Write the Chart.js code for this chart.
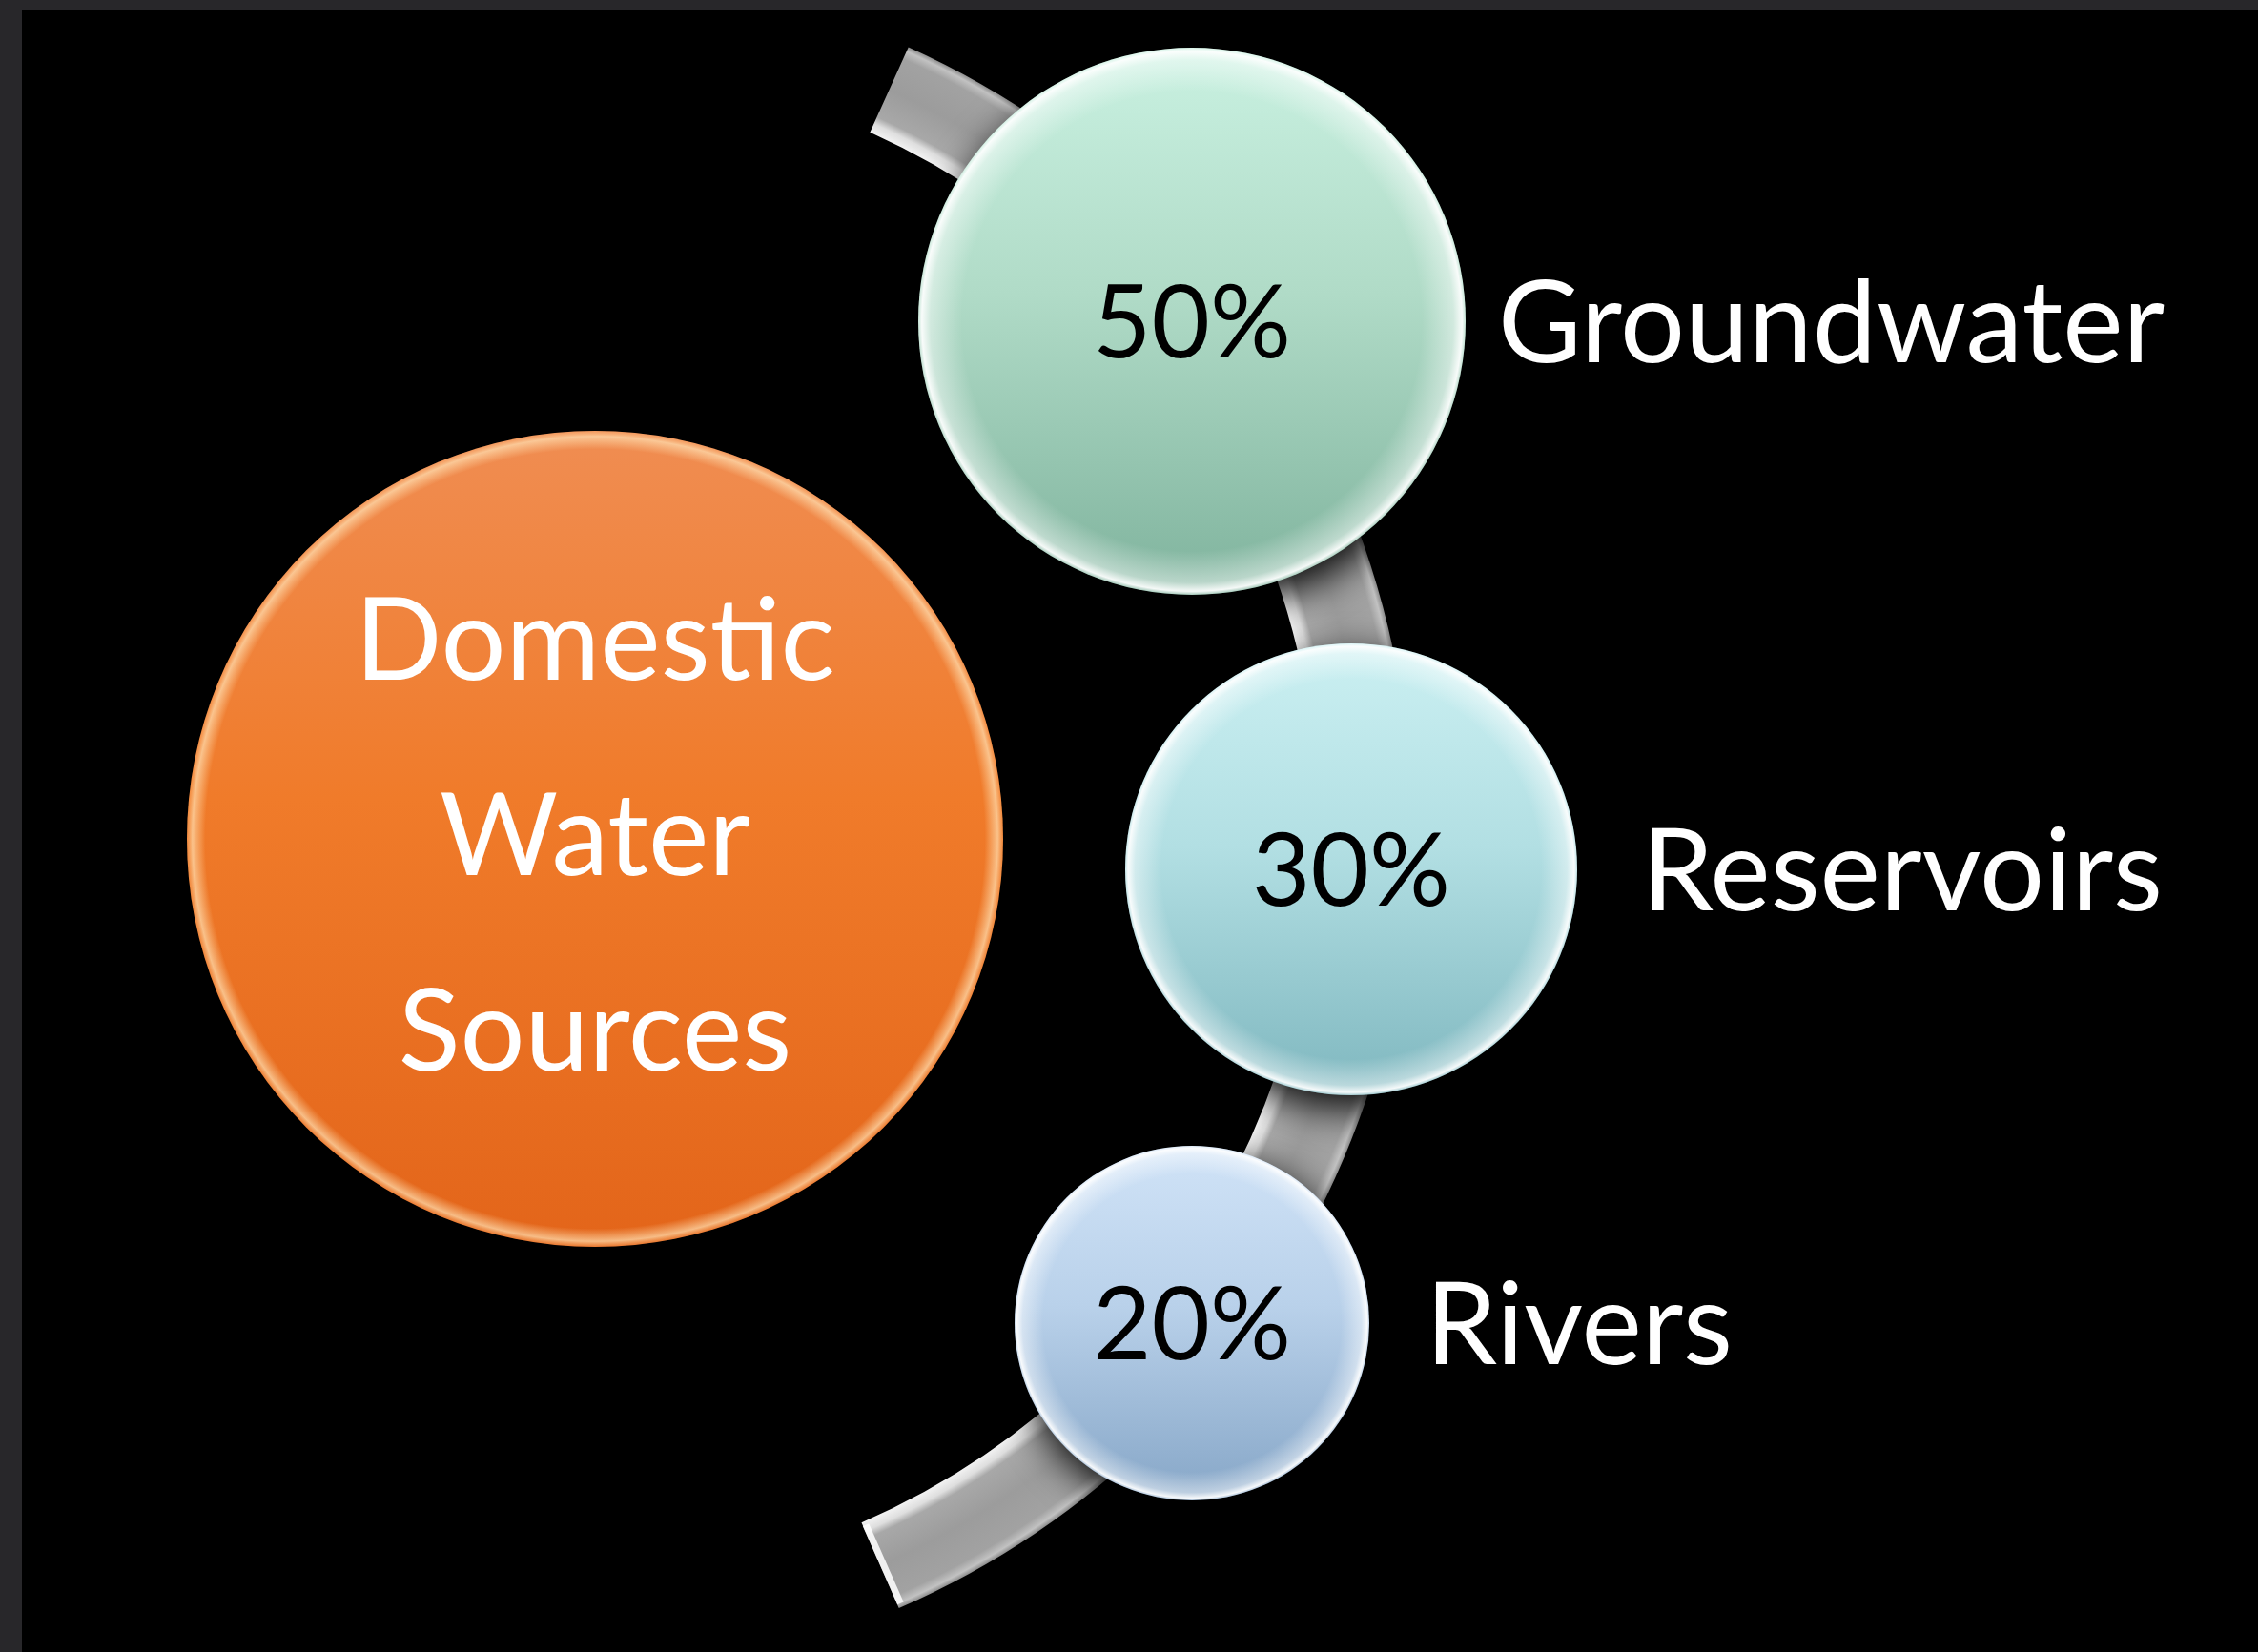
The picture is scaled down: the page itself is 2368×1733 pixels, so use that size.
<!DOCTYPE html>
<html>
<head>
<meta charset="utf-8">
<title>Domestic Water Sources</title>
<script src="https://cdn.jsdelivr.net/npm/chart.js@4.4.1/dist/chart.umd.min.js"></script>
<style>
  html, body { margin: 0; padding: 0; background: #000; }
  canvas { display: block; }
</style>
</head>
<body>
<canvas id="myChart" width="2368" height="1733"></canvas>
<script>
// chart data
var sources = ['Groundwater', 'Reservoirs', 'Rivers'];
var shares = [50, 30, 20];
var hubLines = ['Domestic', 'Water', 'Sources'];

// layout, in axis units (the axes run over the canvas pixels)
var sourceX = [1250, 1417, 1250];
var sourceY = [337, 912, 1388];
var sourceR = [287, 237, 186];
var labelX = [1571, 1722, 1495];
var hubPos = { x: 624, y: 880, r: 428 };
var ring = { x: 584, y: 866, r: 847, width: 98, from: -65.7, to: 66.4 };

// colours
var sourceTop = ['#c9f1e1', '#cbf0f2', '#d0e3f7'];
var sourceMid = ['#b0dbc7', '#b2dfe3', '#b9d1ea'];
var sourceBottom = ['#7fb39d', '#7fb7bf', '#86a6c7'];
var hubTop = ['#f08d52'], hubMid = ['#f07b2a'], hubBottom = ['#e3651a'];

var FONT = 'Lato, "Open Sans", sans-serif';
var TEXT_SIZE = 120;
var PCT_SIZE = 106;
var CAP = 0.7165;

//vertical gradient for each bubble, built from the scales
function bubbleFill(tops, mids, bottoms) {
    return function (c) {
        var i = c.dataIndex || 0;
        if (c.type !== 'data') return mids[i];
        var y = c.chart.scales.y.getPixelForValue(c.raw.y);
        if (!isFinite(y)) return mids[i];
        var g = c.chart.ctx.createLinearGradient(0, y - c.raw.r, 0, y + c.raw.r);
        g.addColorStop(0, tops[i]);
        g.addColorStop(0.45, mids[i]);
        g.addColorStop(1, bottoms[i]);
        return g;
    };
}

var glossPlugin = {
    id: 'gloss',
    beforeDraw: function (chart) {
        var ctx = chart.ctx;
        ctx.save();
        ctx.fillStyle = '#000';
        ctx.fillRect(0, 0, chart.width, chart.height);
        ctx.fillStyle = '#28272a';
        ctx.fillRect(0, 0, chart.width, 11);
        ctx.fillRect(0, 0, 23, chart.height);
        ctx.restore();
    },
    //the grey curved band behind the bubbles
    beforeDatasetsDraw: function (chart) {
        var ctx = chart.ctx, sx = chart.scales.x, sy = chart.scales.y;
        var cx = sx.getPixelForValue(ring.x), cy = sy.getPixelForValue(ring.y);
        var R = sx.getPixelForValue(ring.x + ring.r) - cx;
        var w = ring.width;
        var a0 = ring.from * Math.PI / 180, a1 = ring.to * Math.PI / 180;
        ctx.save();
        var g = ctx.createRadialGradient(cx, cy, R - w / 2, cx, cy, R + w / 2);
        g.addColorStop(0, '#f2f2f2');
        g.addColorStop(0.1, '#dedede');
        g.addColorStop(0.18, '#a8a8a8');
        g.addColorStop(0.5, '#9c9c9c');
        g.addColorStop(0.86, '#a2a2a2');
        g.addColorStop(0.95, '#c2c2c2');
        g.addColorStop(1, '#8c8c8c');
        ctx.strokeStyle = g;
        ctx.lineWidth = w;
        ctx.lineCap = 'butt';
        ctx.beginPath();
        ctx.arc(cx, cy, R, a0, a1, false);
        ctx.stroke();
        // light bevel on the lower end cap
        ctx.strokeStyle = 'rgba(255,255,255,0.85)';
        ctx.lineWidth = 7;
        ctx.beginPath();
        ctx.moveTo(cx + (R - w / 2 + 4) * Math.cos(a1 - 0.004), cy + (R - w / 2 + 4) * Math.sin(a1 - 0.004));
        ctx.lineTo(cx + (R + w / 2 - 4) * Math.cos(a1 - 0.004), cy + (R + w / 2 - 4) * Math.sin(a1 - 0.004));
        ctx.stroke();
        ctx.restore();
    },
    beforeDatasetDraw: function (chart) {
        var ctx = chart.ctx;
        ctx.save();
        ctx.shadowColor = 'rgba(0,0,0,0.95)';
        ctx.shadowBlur = 40;
        ctx.shadowOffsetX = 4;
        ctx.shadowOffsetY = 14;
    },
    afterDatasetDraw: function (chart, args) {
        var ctx = chart.ctx;
        ctx.restore();
        var isHub = args.index === 1;
        args.meta.data.forEach(function (el) {
            var x = el.x, y = el.y, r = el.options.radius;
            var g = ctx.createRadialGradient(x, y, r * (isHub ? 0.955 : 0.84), x, y, r);
            if (isHub) {
                g.addColorStop(0, 'rgba(255,220,170,0)');
                g.addColorStop(0.7, 'rgba(255,225,180,0.7)');
                g.addColorStop(1, 'rgba(255,200,140,0.2)');
            } else {
                g.addColorStop(0, 'rgba(255,255,255,0)');
                g.addColorStop(0.72, 'rgba(255,255,255,0.45)');
                g.addColorStop(0.92, 'rgba(255,255,255,0.92)');
                g.addColorStop(1, 'rgba(255,255,255,0.3)');
            }
            ctx.save();
            ctx.fillStyle = g;
            ctx.beginPath();
            ctx.arc(x, y, r, 0, Math.PI * 2);
            ctx.fill();
            ctx.restore();
        });
    },
    //texts: percentages, source names and the hub title
    afterDatasetsDraw: function (chart) {
        var ctx = chart.ctx, sx = chart.scales.x;
        var pts = chart.getDatasetMeta(0).data;
        var hub = chart.getDatasetMeta(1).data[0];
        ctx.save();
        ctx.textBaseline = 'alphabetic';
        pts.forEach(function (el, i) {
            ctx.font = PCT_SIZE + 'px ' + FONT;
            ctx.fillStyle = '#000';
            ctx.textAlign = 'center';
            ctx.fillText(shares[i] + '%', el.x, el.y + PCT_SIZE * CAP / 2);
            ctx.font = TEXT_SIZE + 'px ' + FONT;
            ctx.fillStyle = '#fff';
            ctx.textAlign = 'left';
            ctx.fillText(sources[i], sx.getPixelForValue(labelX[i]), el.y + TEXT_SIZE * CAP / 2);
        });
        ctx.font = TEXT_SIZE + 'px ' + FONT;
        ctx.fillStyle = '#fff';
        ctx.textAlign = 'center';
        hubLines.forEach(function (t, i) {
            ctx.fillText(t, hub.x, hub.y + TEXT_SIZE * CAP / 2 - 5 + (i - 1) * 205);
        });
        ctx.restore();
    }
};

function drawChart() {
    var ctx = document.getElementById('myChart').getContext('2d');
    new Chart(ctx, {
        type: 'bubble',
        data: {
            datasets: [{
                label: 'Sources',
                data: sources.map(function (s, i) {
                    return { x: sourceX[i], y: sourceY[i], r: sourceR[i] };
                }),
                backgroundColor: bubbleFill(sourceTop, sourceMid, sourceBottom),
                borderWidth: 0,
                clip: false
            }, {
                label: 'Domestic Water Sources',
                data: [{ x: hubPos.x, y: hubPos.y, r: hubPos.r }],
                backgroundColor: bubbleFill(hubTop, hubMid, hubBottom),
                borderWidth: 0,
                clip: false
            }]
        },
        options: {
            responsive: false,
            animation: false,
            events: [],
            layout: { padding: 0, autoPadding: false },
            plugins: {
                legend: { display: false },
                tooltip: { enabled: false }
            },
            scales: {
                x: { type: 'linear', min: 0, max: 2368, display: false },
                y: { type: 'linear', min: 0, max: 1733, reverse: true, display: false }
            }
        },
        plugins: [glossPlugin]
    });
}

if (document.fonts && document.fonts.load) {
    document.fonts.load(TEXT_SIZE + 'px Lato').then(drawChart, drawChart);
} else {
    drawChart();
}
</script>
</body>
</html>
